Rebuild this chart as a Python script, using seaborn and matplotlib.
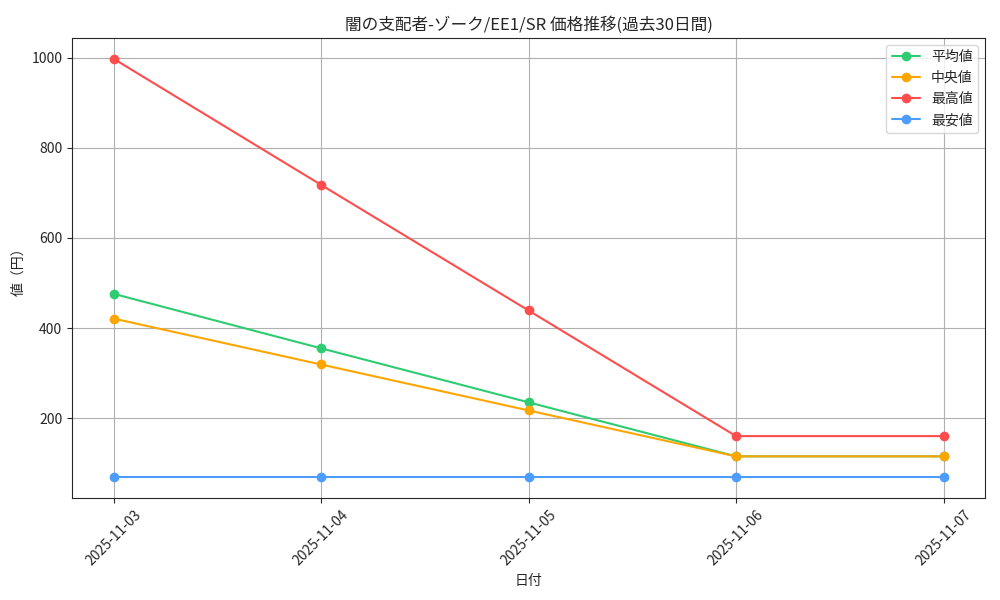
import pandas as pd
import matplotlib.pyplot as plt
import seaborn as sns

dates = ['2025-11-03', '2025-11-04', '2025-11-05', '2025-11-06', '2025-11-07']
avg_price = [476, 355, 235, 115, 115]
median_price = [421, 319, 217, 115, 115]
max_price = [998, 718, 439, 160, 160]
min_price = [69, 69, 69, 69, 69]

series_names = ['平均値', '中央値', '最高値', '最安値']
colors = ['#2ecc71', '#ffa500', '#ff4d4d', '#4d9dff']

sns.set_style('ticks')
plt.rcParams['font.family'] = ['Noto Sans CJK JP', 'DejaVu Sans']

df = pd.DataFrame({'日付': dates, '平均値': avg_price, '中央値': median_price,
                   '最高値': max_price, '最安値': min_price})
long_df = df.melt(id_vars='日付', var_name='種類', value_name='値')

fig, ax = plt.subplots(figsize=(10, 6), dpi=100)
sns.lineplot(data=long_df, x='日付', y='値', hue='種類', hue_order=series_names,
             palette=colors, marker='o', markersize=7, markeredgewidth=0,
             linewidth=1.5, ax=ax)

ax.set_title('闇の支配者-ゾーク/EE1/SR 価格推移(過去30日間)', fontsize=12)
ax.set_xlabel('日付')
ax.set_ylabel('値（円）')
ax.grid(True, color='#b0b0b0', linewidth=0.8)
ax.tick_params(axis='x', rotation=45)
ax.legend(loc='upper right', title=None)

fig.subplots_adjust(left=0.072, right=0.985, top=0.937, bottom=0.17)
plt.savefig('out.png', dpi=100)
